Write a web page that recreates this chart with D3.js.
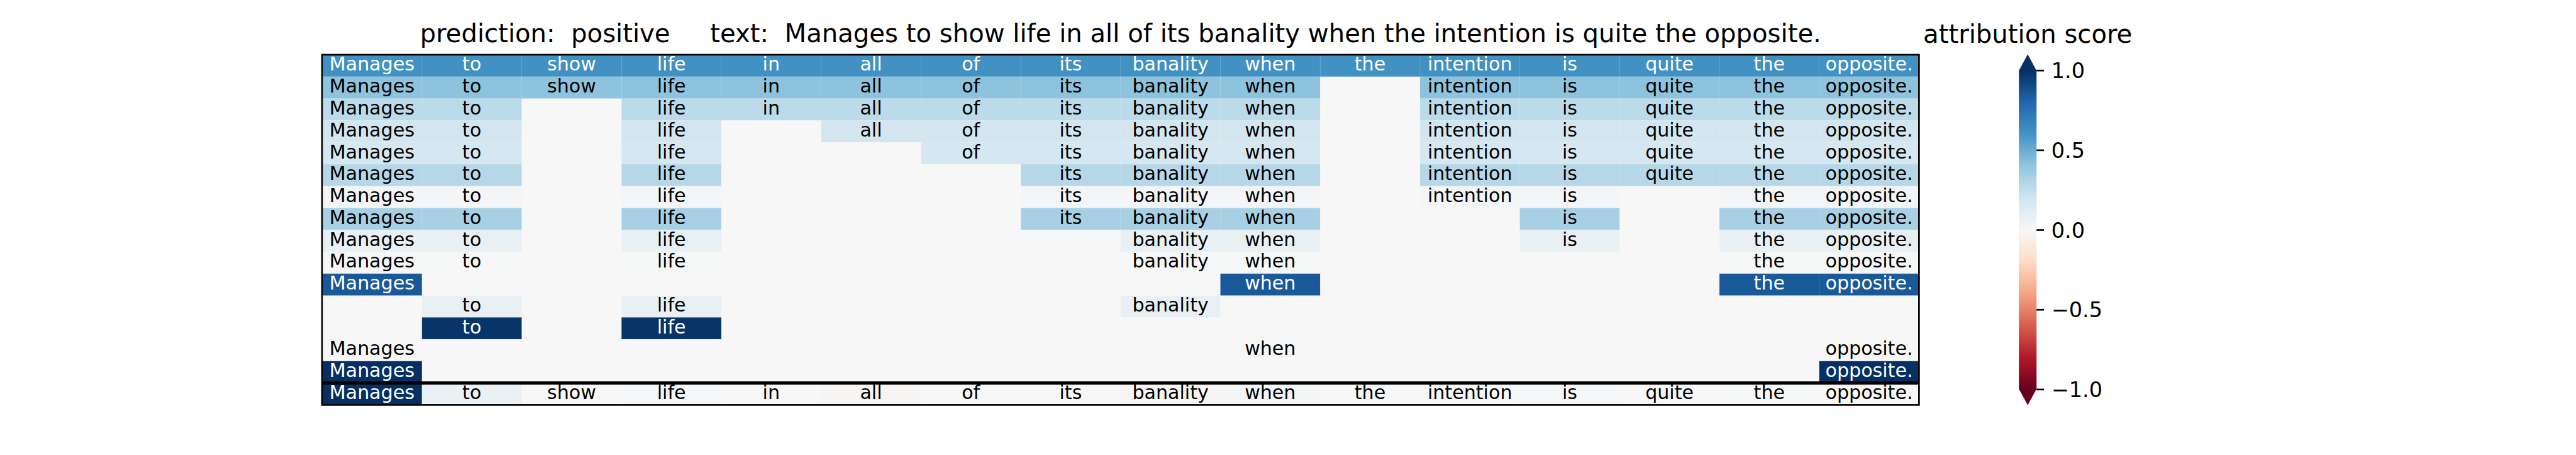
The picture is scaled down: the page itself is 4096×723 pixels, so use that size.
<!DOCTYPE html>
<html>
<head>
<meta charset="utf-8">
<script src="https://cdn.jsdelivr.net/npm/d3@7"></script>
<style>
  html, body { margin: 0; padding: 0; background: #ffffff; }
  svg { display: block; font-family: "DejaVu Sans", sans-serif; }
  text { white-space: pre; }
</style>
</head>
<body>
<div id="chart"></div>
<script>
// ---------------- data ----------------
const tokens = ["Manages","to","show","life","in","all","of","its","banality","when","the","intention","is","quite","the","opposite."];
// attribution score of each perturbed sentence (rows 0..14)
const rowScores = [0.61, 0.41, 0.27, 0.19, 0.18, 0.285, 0.02, 0.33, 0.08, 0.005, 0.85, 0.075, 0.98, 0.0, 1.0];
// which tokens are kept in each perturbed sentence
const rowMasks = [
  "1111111111111111",
  "1111111111011111",
  "1101111111011111",
  "1101011111011111",
  "1101001111011111",
  "1101000111011111",
  "1101000111011011",
  "1101000111001011",
  "1101000011001011",
  "1101000011000011",
  "1000000001000011",
  "0101000010000000",
  "0101000000000000",
  "1000000001000001",
  "1000000000000001"
];
// per-token attribution (bottom row)
const tokenScores = [1.0, 0.07, 0.0, 0.01, 0.0, -0.015, 0.0, 0.0, -0.015, 0.015, 0.0, 0.005, 0.01, 0.0, 0.005, 0.0];
const cbTicks = [-1.0, -0.5, 0.0, 0.5, 1.0];
const titleText = "prediction:  positive     text:  Manages to show life in all of its banality when the intention is quite the opposite.";
const cbTitleText = "attribution score";
// matplotlib RdBu anchor colours (low -> high)
const rdbuColors = ["#67001f","#b2182b","#d6604d","#f4a582","#fddbc7","#f7f7f7","#d1e5f0","#92c5de","#4393c3","#2166ac","#053061"];

// ---------------- layout ----------------
const S = 4096 / 5100;
const W = 4096, H = 723;
const gridL = 637.7 * S, gridR = 3799.3 * S;
const gridT = 108.3 * S, rowH = 43.3 * S;
const nRows = rowMasks.length + 1;
const gridB = gridT + nRows * rowH;

const cbL = 3997 * S, cbR = 4032 * S;
const cbTop = 139 * S, cbBot = 770 * S;

const svg = d3.select("#chart").append("svg")
  .attr("width", W).attr("height", H);

const color = d3.scaleLinear()
  .domain(d3.range(11).map(i => -1 + i * 0.2))
  .range(rdbuColors)
  .interpolate(d3.interpolateRgb)
  .clamp(true);

const x = d3.scaleBand().domain(d3.range(tokens.length)).range([gridL, gridR]).padding(0);
const y = d3.scaleBand().domain(d3.range(nRows)).range([gridT, gridB]).padding(0);

// build cell table
const cells = [];
rowMasks.forEach((m, r) => {
  for (let c = 0; c < tokens.length; c++) {
    const on = m[c] === "1";
    cells.push({ r, c, v: on ? rowScores[r] : 0, label: on ? tokens[c] : "" });
  }
});
tokenScores.forEach((v, c) => cells.push({ r: nRows - 1, c, v, label: tokens[c] }));

const g = svg.append("g");
g.selectAll("rect.cell").data(cells).join("rect")
  .attr("class", "cell")
  .attr("x", d => x(d.c))
  .attr("y", d => y(d.r))
  .attr("width", x.bandwidth() + 0.5)
  .attr("height", y.bandwidth() + 0.5)
  .attr("fill", d => color(d.v));

// faint cell edges (pcolormesh seams)
g.selectAll("rect.edge").data(cells.filter(d => d.label !== "")).join("rect")
  .attr("class", "edge")
  .attr("x", d => x(d.c))
  .attr("y", d => y(d.r))
  .attr("width", x.bandwidth())
  .attr("height", y.bandwidth())
  .attr("fill", "none")
  .attr("stroke", "#ffffff")
  .attr("stroke-opacity", 0.12)
  .attr("stroke-width", 0.8);

const cellFont = 37.5 * S;
g.selectAll("text.cell").data(cells.filter(d => d.label !== "")).join("text")
  .attr("class", "cell")
  .attr("x", d => x(d.c) + x.bandwidth() / 2)
  .attr("y", d => y(d.r) + y.bandwidth() / 2 + 0.267 * cellFont)
  .attr("text-anchor", "middle")
  .attr("font-size", cellFont)
  .attr("fill", d => d.v > 0.5 ? "#ffffff" : "#000000")
  .text(d => d.label);

// separator line above the per-token row
svg.append("line")
  .attr("x1", gridL).attr("x2", gridR)
  .attr("y1", y(nRows - 1)).attr("y2", y(nRows - 1))
  .attr("stroke", "#000").attr("stroke-width", 6.25 * S);

// axes frame (spines)
svg.append("rect")
  .attr("x", gridL).attr("y", gridT)
  .attr("width", gridR - gridL).attr("height", gridB - gridT)
  .attr("fill", "none").attr("stroke", "#000").attr("stroke-width", 3.33 * S);

// title
svg.append("text")
  .attr("x", (gridL + gridR) / 2)
  .attr("y", 83.3 * S)
  .attr("text-anchor", "middle")
  .attr("font-size", 50 * S)
  .attr("fill", "#000")
  .text(titleText);

// ---------------- colorbar ----------------
const cbY = d3.scaleLinear().domain([-1, 1]).range([cbBot, cbTop]);
const defs = svg.append("defs");
const grad = defs.append("linearGradient")
  .attr("id", "cbgrad").attr("x1", 0).attr("y1", 1).attr("x2", 0).attr("y2", 0);
d3.range(0, 1.0001, 0.02).forEach(t => {
  grad.append("stop").attr("offset", t).attr("stop-color", color(-1 + 2 * t));
});
const cbG = svg.append("g");
cbG.append("rect")
  .attr("x", cbL).attr("y", cbY(1))
  .attr("width", cbR - cbL).attr("height", cbY(-1) - cbY(1))
  .attr("fill", "url(#cbgrad)");
const ext = 0.05 * (cbY(-1) - cbY(1));
const cbMid = (cbL + cbR) / 2;
cbG.append("path")
  .attr("d", `M${cbL},${cbY(1) + 0.5}L${cbMid},${cbY(1) - ext}L${cbR},${cbY(1) + 0.5}Z`)
  .attr("fill", color(1));
cbG.append("path")
  .attr("d", `M${cbL},${cbY(-1) - 0.5}L${cbMid},${cbY(-1) + ext}L${cbR},${cbY(-1) - 0.5}Z`)
  .attr("fill", color(-1));

const axis = d3.axisRight(cbY)
  .tickValues(cbTicks)
  .tickFormat(d3.format(".1f"))
  .tickSize(14.6 * S)
  .tickPadding(14.6 * S);
const axG = svg.append("g")
  .attr("transform", `translate(${cbR},0)`)
  .call(axis);
axG.select(".domain").remove();
axG.selectAll(".tick line").attr("stroke", "#000").attr("stroke-width", 3.33 * S);
axG.selectAll(".tick text")
  .attr("font-family", "DejaVu Sans, sans-serif")
  .attr("font-size", 41.7 * S)
  .attr("fill", "#000")
  .attr("dy", null)
  .attr("y", 0.365 * 41.7 * S);

svg.append("text")
  .attr("x", cbMid)
  .attr("y", 84.3 * S)
  .attr("text-anchor", "middle")
  .attr("font-size", 50 * S)
  .attr("fill", "#000")
  .text(cbTitleText);
</script>
</body>
</html>
